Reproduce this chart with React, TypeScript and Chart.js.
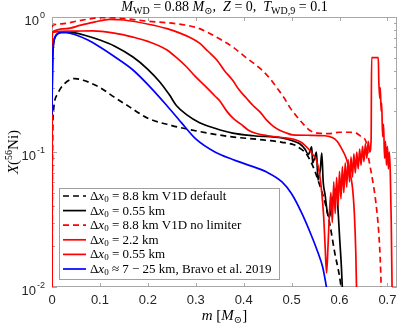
import React, { useEffect, useRef } from 'react';
import { Chart, registerables } from 'chart.js';
Chart.register(...registerables);

// ---- data ----
const xTicks = [0, 0.1, 0.2, 0.3, 0.4, 0.5, 0.6, 0.7];
const yTicks = [0.01, 0.1, 1];
const yTickExp = ['-2', '-1', '0'];

const v1dDefaultX = [0, 0.001, 0.003, 0.012, 0.026, 0.048, 0.065, 0.08, 0.1, 0.13, 0.1625, 0.2, 0.25, 0.29, 0.33, 0.38, 0.43, 0.48, 0.505, 0.52, 0.53, 0.54, 0.55, 0.56, 0.57, 0.58, 0.59, 0.6, 0.607];
const v1dDefaultY = [0.004, 0.1, 0.2, 0.27, 0.32, 0.35, 0.34, 0.325, 0.3, 0.255, 0.215, 0.178, 0.157, 0.146, 0.137, 0.129, 0.124, 0.118, 0.113, 0.105, 0.098, 0.085, 0.07, 0.055, 0.042, 0.029, 0.018, 0.012, 0.008];

const black055X = [0, 0.002, 0.006, 0.012, 0.025, 0.045, 0.07, 0.1, 0.13, 0.169, 0.2, 0.225, 0.245, 0.26, 0.28, 0.308, 0.34, 0.377, 0.42, 0.48, 0.505, 0.517, 0.528, 0.535, 0.542, 0.544, 0.548, 0.552, 0.555, 0.56, 0.563, 0.566, 0.57, 0.575, 0.579, 0.586, 0.594, 0.597, 0.6, 0.604, 0.607];
const black055Y = [0.25, 0.55, 0.7, 0.755, 0.775, 0.765, 0.73, 0.675, 0.61, 0.505, 0.41, 0.33, 0.265, 0.22, 0.19, 0.165, 0.15, 0.138, 0.132, 0.127, 0.12, 0.115, 0.105, 0.096, 0.109, 0.083, 0.09, 0.1, 0.062, 0.075, 0.098, 0.06, 0.048, 0.035, 0.033, 0.045, 0.054, 0.037, 0.024, 0.014, 0.008];

const noLimiterX = [0, 0.0005, 0.02, 0.05, 0.08, 0.1, 0.13, 0.167, 0.2, 0.25, 0.28, 0.308, 0.34, 0.377, 0.405, 0.433, 0.455, 0.469, 0.485, 0.496, 0.51, 0.525, 0.5375, 0.555, 0.58, 0.6, 0.62, 0.635, 0.645, 0.655, 0.662, 0.669, 0.676, 0.682, 0.686, 0.688];
const noLimiterY = [0.005, 0.86, 0.89, 0.93, 0.97, 0.99, 0.985, 0.96, 0.93, 0.9, 0.87, 0.82, 0.72, 0.6, 0.5, 0.42, 0.35, 0.3, 0.25, 0.215, 0.185, 0.16, 0.145, 0.138, 0.137, 0.14, 0.14, 0.138, 0.13, 0.12, 0.085, 0.062, 0.042, 0.025, 0.013, 0.007];

const red22X = [0, 0.0005, 0.03, 0.06, 0.09, 0.12, 0.15, 0.204, 0.24, 0.267, 0.29, 0.308, 0.325, 0.344, 0.36, 0.377, 0.39, 0.406, 0.42, 0.433, 0.448, 0.462, 0.475, 0.49, 0.502, 0.54, 0.57, 0.585, 0.595, 0.605, 0.614, 0.621, 0.627, 0.631, 0.634, 0.636];
const red22Y = [0.005, 0.77, 0.82, 0.87, 0.92, 0.96, 0.95, 0.88, 0.82, 0.76, 0.7, 0.64, 0.56, 0.48, 0.4, 0.34, 0.29, 0.25, 0.22, 0.2, 0.172, 0.155, 0.145, 0.138, 0.134, 0.133, 0.132, 0.128, 0.12, 0.105, 0.09, 0.072, 0.055, 0.035, 0.018, 0.008];

const red055X = [0, 0.0005, 0.04, 0.085, 0.13, 0.169, 0.2, 0.24, 0.26, 0.28, 0.3, 0.323, 0.34, 0.35, 0.365, 0.38, 0.395, 0.41, 0.427, 0.45, 0.48, 0.505, 0.52, 0.53, 0.5375, 0.545, 0.552, 0.558, 0.563, 0.567, 0.57, 0.573, 0.576, 0.579, 0.582, 0.585, 0.588, 0.591, 0.594, 0.597, 0.6, 0.603, 0.606, 0.609, 0.612, 0.615, 0.618, 0.621, 0.624, 0.627, 0.63, 0.633, 0.636, 0.639, 0.642, 0.645, 0.648, 0.651, 0.654, 0.657, 0.66, 0.663, 0.666, 0.667, 0.681, 0.682, 0.684, 0.685, 0.687, 0.688, 0.69, 0.692, 0.694, 0.696, 0.698, 0.7, 0.702, 0.704, 0.706, 0.708, 0.71];
const red055Y = [0.005, 0.77, 0.785, 0.79, 0.76, 0.71, 0.66, 0.57, 0.5, 0.43, 0.36, 0.3, 0.26, 0.24, 0.2, 0.175, 0.16, 0.145, 0.137, 0.132, 0.128, 0.124, 0.118, 0.11, 0.103, 0.095, 0.087, 0.07, 0.05, 0.033, 0.02, 0.0127, 0.02, 0.035, 0.05, 0.03, 0.06, 0.035, 0.065, 0.04, 0.072, 0.045, 0.078, 0.05, 0.083, 0.055, 0.088, 0.06, 0.092, 0.065, 0.097, 0.07, 0.1, 0.075, 0.105, 0.08, 0.11, 0.085, 0.115, 0.09, 0.12, 0.1, 0.125, 0.5, 0.5, 0.34, 0.25, 0.3, 0.2, 0.23, 0.13, 0.16, 0.09, 0.12, 0.08, 0.11, 0.075, 0.1, 0.07, 0.03, 0.008];

const bravoX = [0, 0.001, 0.004, 0.01, 0.02, 0.03, 0.05, 0.075, 0.1, 0.13, 0.169, 0.204, 0.24, 0.27, 0.3, 0.34, 0.377, 0.41, 0.448, 0.48, 0.5, 0.52, 0.5375, 0.555, 0.565, 0.575];
const bravoY = [0.19, 0.45, 0.66, 0.74, 0.765, 0.765, 0.735, 0.675, 0.6, 0.51, 0.405, 0.305, 0.22, 0.165, 0.125, 0.1, 0.088, 0.08, 0.071, 0.06, 0.049, 0.036, 0.026, 0.018, 0.014, 0.009];

const legendLabels = [
  ' = 8.8 km V1D default',
  ' = 0.55 km',
  ' = 8.8 km V1D no limiter',
  ' = 2.2 km',
  ' = 0.55 km',
  ' \u2248 7 \u2212 25 km, Bravo et al. 2019',
];

const SERIF = "'Liberation Serif', 'DejaVu Serif', serif";
const SANS = "'Liberation Sans', Arial, sans-serif";
const rm = (s: number) => `${s}px ${SERIF}`;
const it = (s: number) => `italic ${s}px ${SERIF}`;

type Seg = { t: string; f: string; dy?: number };

function segsWidth(ctx: CanvasRenderingContext2D, segs: Seg[]) {
  let w = 0;
  for (const s of segs) { ctx.font = s.f; w += ctx.measureText(s.t).width; }
  return w;
}
function drawSegs(ctx: CanvasRenderingContext2D, segs: Seg[], x: number, y: number) {
  let cx = x;
  for (const s of segs) {
    ctx.font = s.f;
    ctx.fillText(s.t, cx, y + (s.dy || 0));
    cx += ctx.measureText(s.t).width;
  }
}

const mk = (xs: number[], ys: number[]) => xs.map((x, i) => ({ x, y: ys[i] }));

const LW = 1.7;
const DASH = [6, 4];

const series = [
  { label: 'v1d', xs: v1dDefaultX, ys: v1dDefaultY, color: '#000000', dash: DASH, order: 6 },
  { label: 'b055', xs: black055X, ys: black055Y, color: '#000000', dash: [] as number[], order: 5 },
  { label: 'nolim', xs: noLimiterX, ys: noLimiterY, color: '#ff0000', dash: DASH, order: 4 },
  { label: 'r22', xs: red22X, ys: red22Y, color: '#ff0000', dash: [] as number[], order: 3 },
  { label: 'r055', xs: red055X, ys: red055Y, color: '#ff0000', dash: [] as number[], order: 2 },
  { label: 'bravo', xs: bravoX, ys: bravoY, color: '#0000ff', dash: [] as number[], order: 1 },
];

const AXIS = '#a8a8a8';
const TXT = '#262626';

const framePlugin = {
  id: 'frame',
  beforeDatasetsDraw(chart: any) {
    const ctx: CanvasRenderingContext2D = chart.ctx;
    const { left, right, top, bottom } = chart.chartArea;
    const xs = chart.scales.x;
    const ys = chart.scales.y;
    ctx.save();
    ctx.strokeStyle = AXIS;
    ctx.lineWidth = 1;
    ctx.strokeRect(left + 0.5, top + 0.5, right - left - 1, bottom - top - 1);
    ctx.beginPath();
    for (const v of xTicks) {
      const px = Math.round(xs.getPixelForValue(v)) + 0.5;
      ctx.moveTo(px, bottom); ctx.lineTo(px, bottom - 4);
      ctx.moveTo(px, top); ctx.lineTo(px, top + 4);
    }
    for (let e = -2; e < 0; e++) {
      for (let m = 1; m <= 9; m++) {
        const v = m * Math.pow(10, e);
        const py = Math.round(ys.getPixelForValue(v)) + 0.5;
        const len = m === 1 ? 5 : 3;
        ctx.moveTo(left, py); ctx.lineTo(left + len, py);
        ctx.moveTo(right, py); ctx.lineTo(right - len, py);
      }
    }
    ctx.stroke();
    ctx.restore();
  },
  afterDraw(chart: any) {
    const ctx: CanvasRenderingContext2D = chart.ctx;
    const { left, right, top, bottom } = chart.chartArea;
    const xs = chart.scales.x;
    const ys = chart.scales.y;
    ctx.save();
    ctx.fillStyle = TXT;
    // x tick labels
    ctx.font = `13px ${SANS}`;
    ctx.textAlign = 'center';
    ctx.textBaseline = 'alphabetic';
    for (const v of xTicks) {
      ctx.fillText(String(v), xs.getPixelForValue(v), bottom + 17);
    }
    // y tick labels
    ctx.textAlign = 'left';
    yTicks.forEach((v, i) => {
      const py = ys.getPixelForValue(v);
      const exp = yTickExp[i];
      ctx.font = `9px ${SANS}`;
      const we = ctx.measureText(exp).width;
      ctx.font = `13px ${SANS}`;
      const wb = ctx.measureText('10').width;
      const xr = 45;
      ctx.fillText('10', xr - we - wb - 1, py + 8);
      ctx.font = `9px ${SANS}`;
      ctx.fillText(exp, xr - we, py + 1);
    });
    // title
    ctx.fillStyle = '#000';
    const T = 14, S = 10;
    const title: Seg[] = [
      { t: 'M', f: it(T) }, { t: 'WD', f: rm(S), dy: 3 }, { t: ' = 0.88 ', f: rm(T) },
      { t: 'M', f: it(T) }, { t: '\u2299', f: rm(S), dy: 3 }, { t: ',  ', f: rm(T) },
      { t: 'Z', f: it(T) }, { t: ' = 0,  ', f: rm(T) },
      { t: 'T', f: it(T) }, { t: 'WD,9', f: rm(S), dy: 3 }, { t: ' = 0.1', f: rm(T) },
    ];
    const cx = (left + right) / 2;
    drawSegs(ctx, title, cx - segsWidth(ctx, title) / 2, 11);
    // x label
    const xl: Seg[] = [
      { t: 'm', f: it(15) }, { t: ' [', f: rm(15) }, { t: 'M', f: it(15) },
      { t: '\u2299', f: rm(10), dy: 3 }, { t: ']', f: rm(15) },
    ];
    drawSegs(ctx, xl, cx - segsWidth(ctx, xl) / 2, 320);
    // y label
    const yl: Seg[] = [
      { t: 'X', f: it(15) }, { t: '(', f: rm(15) }, { t: '56', f: rm(10), dy: -6 },
      { t: 'Ni', f: rm(15) }, { t: ')', f: rm(15) },
    ];
    ctx.save();
    ctx.translate(18, (top + bottom) / 2);
    ctx.rotate(-Math.PI / 2);
    drawSegs(ctx, yl, -segsWidth(ctx, yl) / 2, 0);
    ctx.restore();
    // legend
    const bx = 59, by = 188, bw = 220, bh = 91;
    ctx.fillStyle = '#ffffff';
    ctx.fillRect(bx, by, bw, bh);
    ctx.strokeStyle = '#a0a0a0';
    ctx.lineWidth = 1;
    ctx.strokeRect(bx + 0.5, by + 0.5, bw, bh);
    const rowH = 14.6;
    series.forEach((s, i) => {
      const yc = 196 + i * rowH;
      ctx.save();
      ctx.strokeStyle = s.color;
      ctx.lineWidth = LW;
      ctx.setLineDash(s.dash);
      ctx.beginPath();
      ctx.moveTo(63, yc); ctx.lineTo(86, yc);
      ctx.stroke();
      ctx.restore();
      ctx.fillStyle = '#000';
      const segs: Seg[] = [
        { t: '\u0394', f: rm(13) }, { t: 'x', f: it(13) }, { t: '0', f: rm(9), dy: 2 },
        { t: legendLabels[i], f: rm(13) },
      ];
      drawSegs(ctx, segs, 90, yc + 4);
    });
    ctx.restore();
  },
};

export default function App() {
  const ref = useRef<HTMLCanvasElement | null>(null);
  useEffect(() => {
    if (!ref.current) return;
    const chart = new Chart(ref.current, {
      type: 'line',
      data: {
        datasets: series.map((s) => ({
          label: s.label,
          data: mk(s.xs, s.ys),
          borderColor: s.color,
          backgroundColor: s.color,
          borderWidth: LW,
          borderDash: s.dash,
          pointRadius: 0,
          cubicInterpolationMode: 'monotone',
          fill: false,
          order: s.order,
          clip: 0,
        })),
      },
      options: {
        responsive: false,
        animation: false,
        devicePixelRatio: 1,
        layout: { padding: { left: 52, right: 2, top: 17, bottom: 39 } },
        plugins: { legend: { display: false }, tooltip: { enabled: false }, title: { display: false } },
        scales: {
          x: { type: 'linear', min: 0, max: 0.72, display: false },
          y: { type: 'logarithmic', min: 0.01, max: 1, display: false },
        },
      },
      plugins: [framePlugin],
    } as any);
    return () => chart.destroy();
  }, []);
  return (
    <div style={{ position: 'fixed', left: 0, top: 0, width: 399, height: 326, background: '#fff' }}>
      <canvas ref={ref} width={399} height={326} />
    </div>
  );
}
